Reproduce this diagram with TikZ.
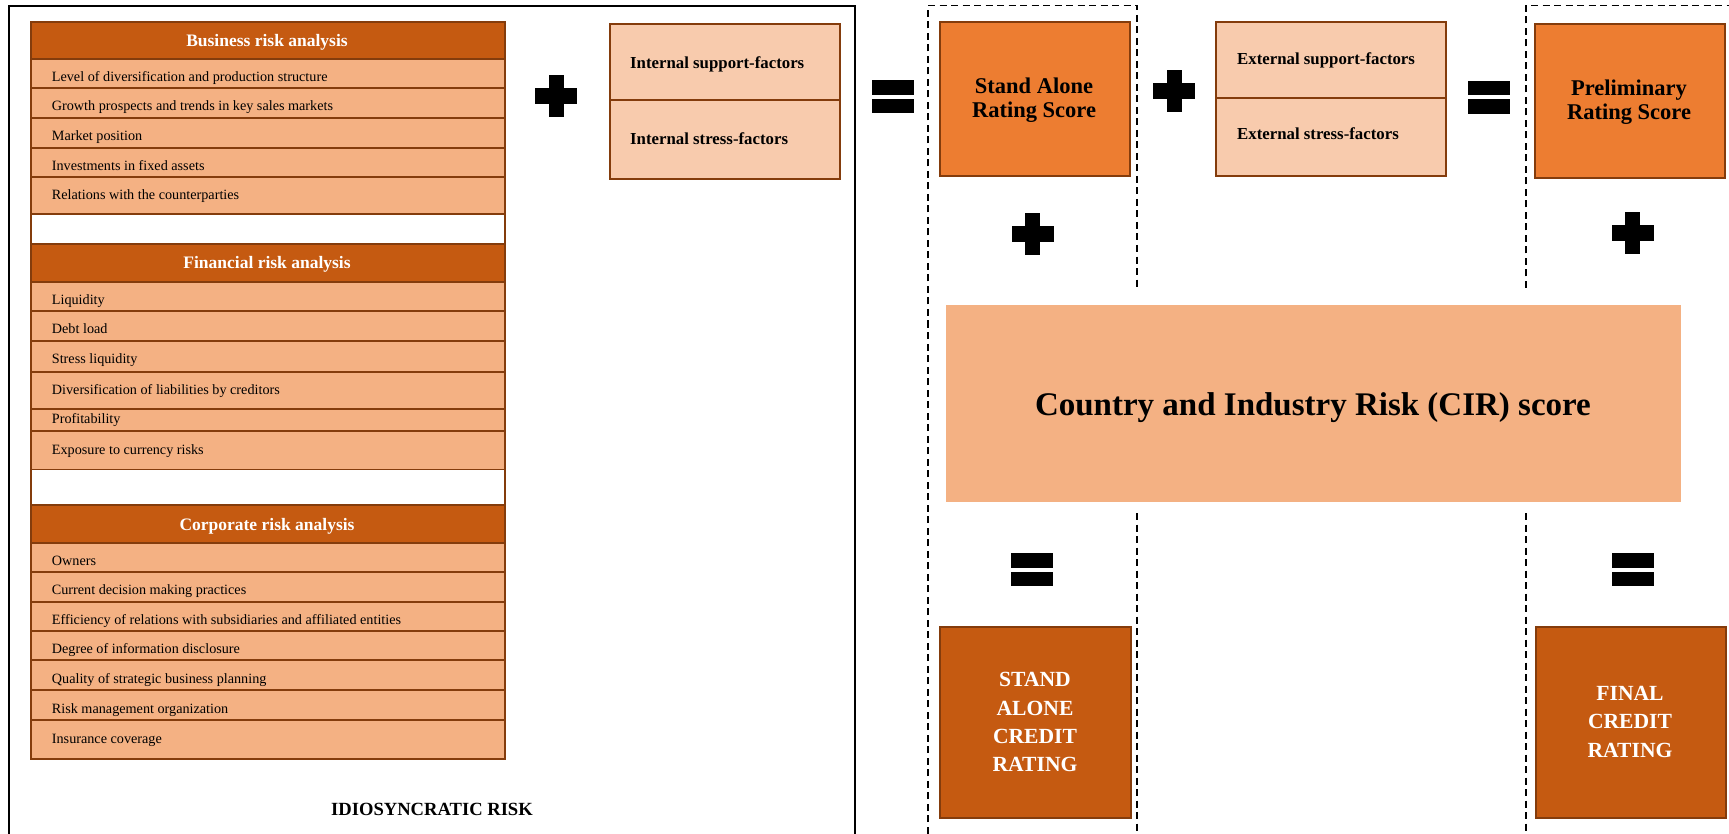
\documentclass[tikz,border=0pt]{standalone}
\usepackage{fontspec}
\setmainfont{Liberation Serif}
\definecolor{brn}{HTML}{843C0C}
\definecolor{headfill}{HTML}{C55A11}
\definecolor{rowfill}{HTML}{F4B183}
\definecolor{factorfill}{HTML}{F8CBAD}
\definecolor{scorefill}{HTML}{ED7D31}
\newcommand{\bx}[6]{\node[#1, minimum width={(#5)-(#3)}, minimum height={(#6)-(#4)}] (#2) at (#3,#4) {};}
\begin{document}
\begin{tikzpicture}[x=1pt,y=-1pt,
  boxbase/.style={rectangle, inner sep=0pt, anchor=north west},
  cell/.style={boxbase, draw=brn, line width=2pt, fill=rowfill},
  head/.style={boxbase, draw=brn, line width=2pt, fill=headfill},
  spacer/.style={boxbase, draw=brn, line width=1.5pt, fill=white},
  factor/.style={boxbase, draw=brn, line width=2pt, fill=factorfill},
  score/.style={boxbase, draw=brn, line width=2pt, fill=scorefill},
  credit/.style={boxbase, draw=brn, line width=2pt, fill=headfill},
  cir/.style={boxbase, fill=rowfill},
  itemtext/.style={anchor=base west, inner sep=0pt, font=\fontsize{14.2}{17}\selectfont},
  headtext/.style={anchor=base, inner sep=0pt, text=white, font=\bfseries\fontsize{17.5}{20}\selectfont},
  factortext/.style={anchor=base west, inner sep=0pt, font=\bfseries\fontsize{16.8}{20}\selectfont},
  scoretext/.style={anchor=base, inner sep=0pt, align=center, font=\bfseries\fontsize{22.5}{24}\selectfont},
  credittext/.style={anchor=base, inner sep=0pt, align=center, text=white, font=\bfseries\fontsize{21.6}{28.3}\selectfont},
  frameline/.style={line width=1.5pt, dash pattern=on 7pt off 4.5pt},
  plussign/.pic={\fill (-21,-8) rectangle (21,8); \fill (-7.5,-21) rectangle (7.5,21);},
  eqsign/.pic={\fill (-21,-16.5) rectangle (21,-2); \fill (-21,2) rectangle (21,16.5);}
]
\useasboundingbox (0,0) rectangle (1729,834);

% idiosyncratic frame
\draw[line width=2pt] (9,845) -- (9,6) -- (855,6) -- (855,845);
\node[anchor=base, inner sep=0pt, font=\bfseries\fontsize{18.6}{22}\selectfont] (idio) at (432,815) {IDIOSYNCRATIC RISK};

% business
\bx{head}{bh}{30}{20.7}{504}{58}
\node[headtext] (bht) at (267,46.7) {Business risk analysis};
\bx{cell}{b1}{30}{58}{504}{87.3}
\node[itemtext] (b1t) at (51.7,81.7) {Level of diversification and production structure};
\bx{cell}{b2}{30}{87.3}{504}{116.7}
\node[itemtext] (b2t) at (51.7,111) {Growth prospects and trends in key sales markets};
\bx{cell}{b3}{30}{116.7}{504}{146.7}
\node[itemtext] (b3t) at (51.7,140.3) {Market position};
\bx{cell}{b4}{30}{146.7}{504}{175.7}
\node[itemtext] (b4t) at (51.7,170.3) {Investments in fixed assets};
\bx{cell}{b5}{30}{175.7}{504}{213.3}
\node[itemtext] (b5t) at (51.7,199.4) {Relations with the counterparties};
\bx{spacer}{w1}{30}{213.3}{504}{243.3}

% financial
\bx{head}{fh}{30}{243.3}{504}{280.7}
\node[headtext] (fht) at (267,269) {Financial risk analysis};
\bx{cell}{f1}{30}{280.7}{504}{310}
\node[itemtext] (f1t) at (51.7,304.4) {Liquidity};
\bx{cell}{f2}{30}{310}{504}{340}
\node[itemtext] (f2t) at (51.7,333.7) {Debt load};
\bx{cell}{f3}{30}{340}{504}{370.7}
\node[itemtext] (f3t) at (51.7,363.7) {Stress liquidity};
\bx{cell}{f4}{30}{370.7}{504}{407.7}
\node[itemtext] (f4t) at (51.7,394.7) {Diversification of liabilities by creditors};
\bx{cell}{f5}{30}{407.7}{504}{430.3}
\node[itemtext] (f5t) at (51.7,423.3) {Profitability};
\bx{cell}{f6}{30}{430.3}{504}{468.7}
\node[itemtext] (f6t) at (51.7,454.4) {Exposure to currency risks};
\bx{spacer}{w2}{30}{468.7}{504}{504}

% corporate
\bx{head}{ch}{30}{504}{504}{541.7}
\node[headtext] (cht) at (267,530) {Corporate risk analysis};
\bx{cell}{c1}{30}{541.7}{504}{570.7}
\node[itemtext] (c1t) at (51.7,565.4) {Owners};
\bx{cell}{c2}{30}{570.7}{504}{601}
\node[itemtext] (c2t) at (51.7,594.7) {Current decision making practices};
\bx{cell}{c3}{30}{601}{504}{630}
\node[itemtext] (c3t) at (51.7,624.4) {Efficiency of relations with subsidiaries and affiliated entities};
\bx{cell}{c4}{30}{630}{504}{659.3}
\node[itemtext] (c4t) at (51.7,653.7) {Degree of information disclosure};
\bx{cell}{c5}{30}{659.3}{504}{689.3}
\node[itemtext] (c5t) at (51.7,683.3) {Quality of strategic business planning};
\bx{cell}{c6}{30}{689.3}{504}{719.3}
\node[itemtext] (c6t) at (51.7,713.2) {Risk management organization};
\bx{cell}{c7}{30}{719.3}{504}{758}
\node[itemtext] (c7t) at (51.7,743.5) {Insurance coverage};

% internal factors
\bx{factor}{isup}{609}{23.3}{839}{99}
\bx{factor}{istr}{609}{99}{839}{178.3}
\node[factortext] (isupt) at (630,68.3) {Internal support-factors};
\node[factortext] (istrt) at (630,145) {Internal stress-factors};

% dashed frames
\draw[frameline] (928,845) -- (928,5.5) -- (1137,5.5) -- (1137,290);
\draw[frameline] (1137,513) -- (1137,845);
\draw[frameline] (1526,288) -- (1526,5.5) -- (1740,5.5);
\draw[frameline] (1526,513) -- (1526,845);

% stand alone rating score
\bx{score}{sars}{939}{20.7}{1129}{175.3}
\node[scoretext] (sarst) at (1034,117.3) {Stand Alone\\Rating Score};

% external factors
\bx{factor}{esup}{1215}{20.7}{1445}{96.7}
\bx{factor}{estr}{1215}{96.7}{1445}{175}
\node[factortext] (esupt) at (1237,65) {External support-factors};
\node[factortext] (estrt) at (1237,140) {External stress-factors};

% preliminary
\bx{score}{prs}{1534}{22.7}{1724}{176.7}
\node[scoretext] (prst) at (1629,119.3) {Preliminary\\Rating Score};

% CIR
\bx{cir}{cir}{945.7}{305}{1681}{501.7}
\node[anchor=base, inner sep=0pt, font=\bfseries\fontsize{33}{38}\selectfont] (cirt) at (1313,415.7) {Country and Industry Risk (CIR) score};

% credit ratings
\bx{credit}{sacr}{939}{626}{1130}{816.7}
\node[credittext] (sacrt) at (1035,771.7) {STAND\\ALONE\\CREDIT\\RATING};
\bx{credit}{fcr}{1535}{626}{1725}{817}
\node[credittext] (fcrt) at (1630,757) {FINAL\\CREDIT\\RATING};

% operators
\pic at (556.3,96) {plussign};
\pic at (893,96.7) {eqsign};
\pic at (1174,91.2) {plussign};
\pic at (1488.5,97.3) {eqsign};
\pic at (1032.6,234) {plussign};
\pic at (1632.5,233.5) {plussign};
\pic at (1032,569.7) {eqsign};
\pic at (1633,569.7) {eqsign};
\end{tikzpicture}
\end{document}
